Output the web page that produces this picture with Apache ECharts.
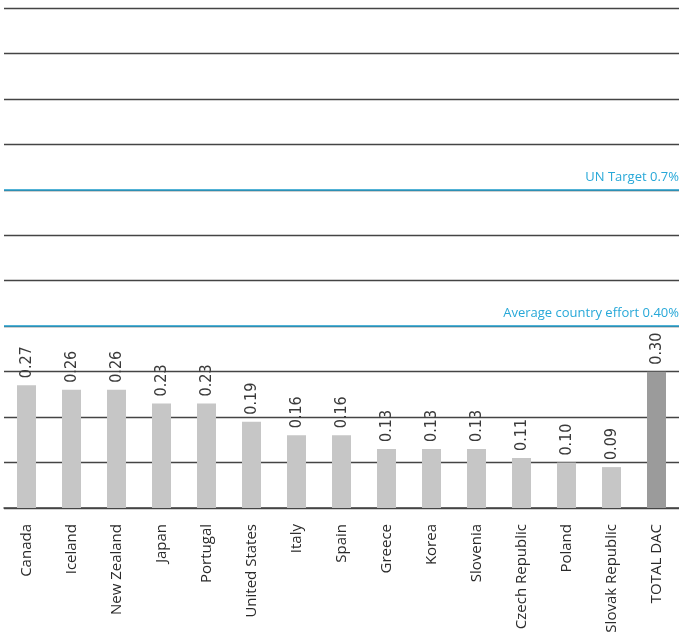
<!DOCTYPE html>
<html>
<head>
<meta charset="utf-8">
<script src="https://cdn.jsdelivr.net/npm/echarts@6/dist/echarts.min.js"></script>
<style>
  html, body { margin: 0; padding: 0; background: #fff; }
  #chart { width: 679px; height: 632px; }
</style>
</head>
<body>
<div id="chart"></div>
<script>
// Net ODA as a share of GNI, by donor country (%)
const countries = ['Canada', 'Iceland', 'New Zealand', 'Japan', 'Portugal', 'United States',
  'Italy', 'Spain', 'Greece', 'Korea', 'Slovenia', 'Czech Republic', 'Poland',
  'Slovak Republic', 'TOTAL DAC'];
const odaShare = [0.27, 0.26, 0.26, 0.23, 0.23, 0.19, 0.16, 0.16, 0.13, 0.13, 0.13, 0.11, 0.10, 0.09, 0.30];
const unTarget = 0.7;
const averageEffort = 0.40;

const barGrey = '#c6c6c6';
const totalGrey = '#9b9b9b';
const refBlue = '#27a8d8';

const chart = echarts.init(document.getElementById('chart'), null, { renderer: 'canvas' });

chart.setOption({
  animation: false,
  grid: { left: 4, right: 0, top: 8, bottom: 124, containLabel: false, outerBoundsMode: 'none' },
  xAxis: {
    type: 'category',
    data: countries,
    boundaryGap: true,
    axisTick: { show: false },
    axisLine: { show: true, lineStyle: { color: '#444', width: 1.5 } },
    axisLabel: {
      rotate: 90,
      margin: 16,
      interval: 0,
      color: '#2a2a2a',
      fontFamily: "'Open Sans', sans-serif",
      fontWeight: 400,
      fontSize: 15
    }
  },
  yAxis: {
    type: 'value',
    min: 0,
    max: 1.1,
    interval: 0.1,
    axisLabel: { show: false },
    axisLine: { show: false },
    axisTick: { show: false },
    splitLine: { show: true, lineStyle: { color: '#444', width: 1.3 } }
  },
  series: [{
    type: 'bar',
    barWidth: 19,
    data: odaShare.map((v, i) => ({
      value: v,
      itemStyle: { color: i === countries.length - 1 ? totalGrey : barGrey }
    })),
    label: {
      show: true,
      position: 'top',
      rotate: 90,
      align: 'left',
      verticalAlign: 'middle',
      distance: 7,
      color: '#3a3a3a',
      fontFamily: "'Liberation Sans Narrow', 'DejaVu Sans Condensed', Roboto, sans-serif",
      fontWeight: 300,
      fontSize: 16,
      formatter: p => p.value.toFixed(2)
    },
    markLine: {
      silent: true,
      symbol: 'none',
      lineStyle: { color: refBlue, width: 1.5, type: 'solid' },
      label: {
        position: 'insideEndTop',
        color: refBlue,
        fontFamily: "'Open Sans', sans-serif",
        fontSize: 13,
        distance: [0, 6]
      },
      data: [
        { yAxis: unTarget, label: { formatter: 'UN Target 0.7%' } },
        { yAxis: averageEffort, label: { formatter: 'Average country effort 0.40%' } }
      ]
    }
  }]
});
</script>
</body>
</html>
